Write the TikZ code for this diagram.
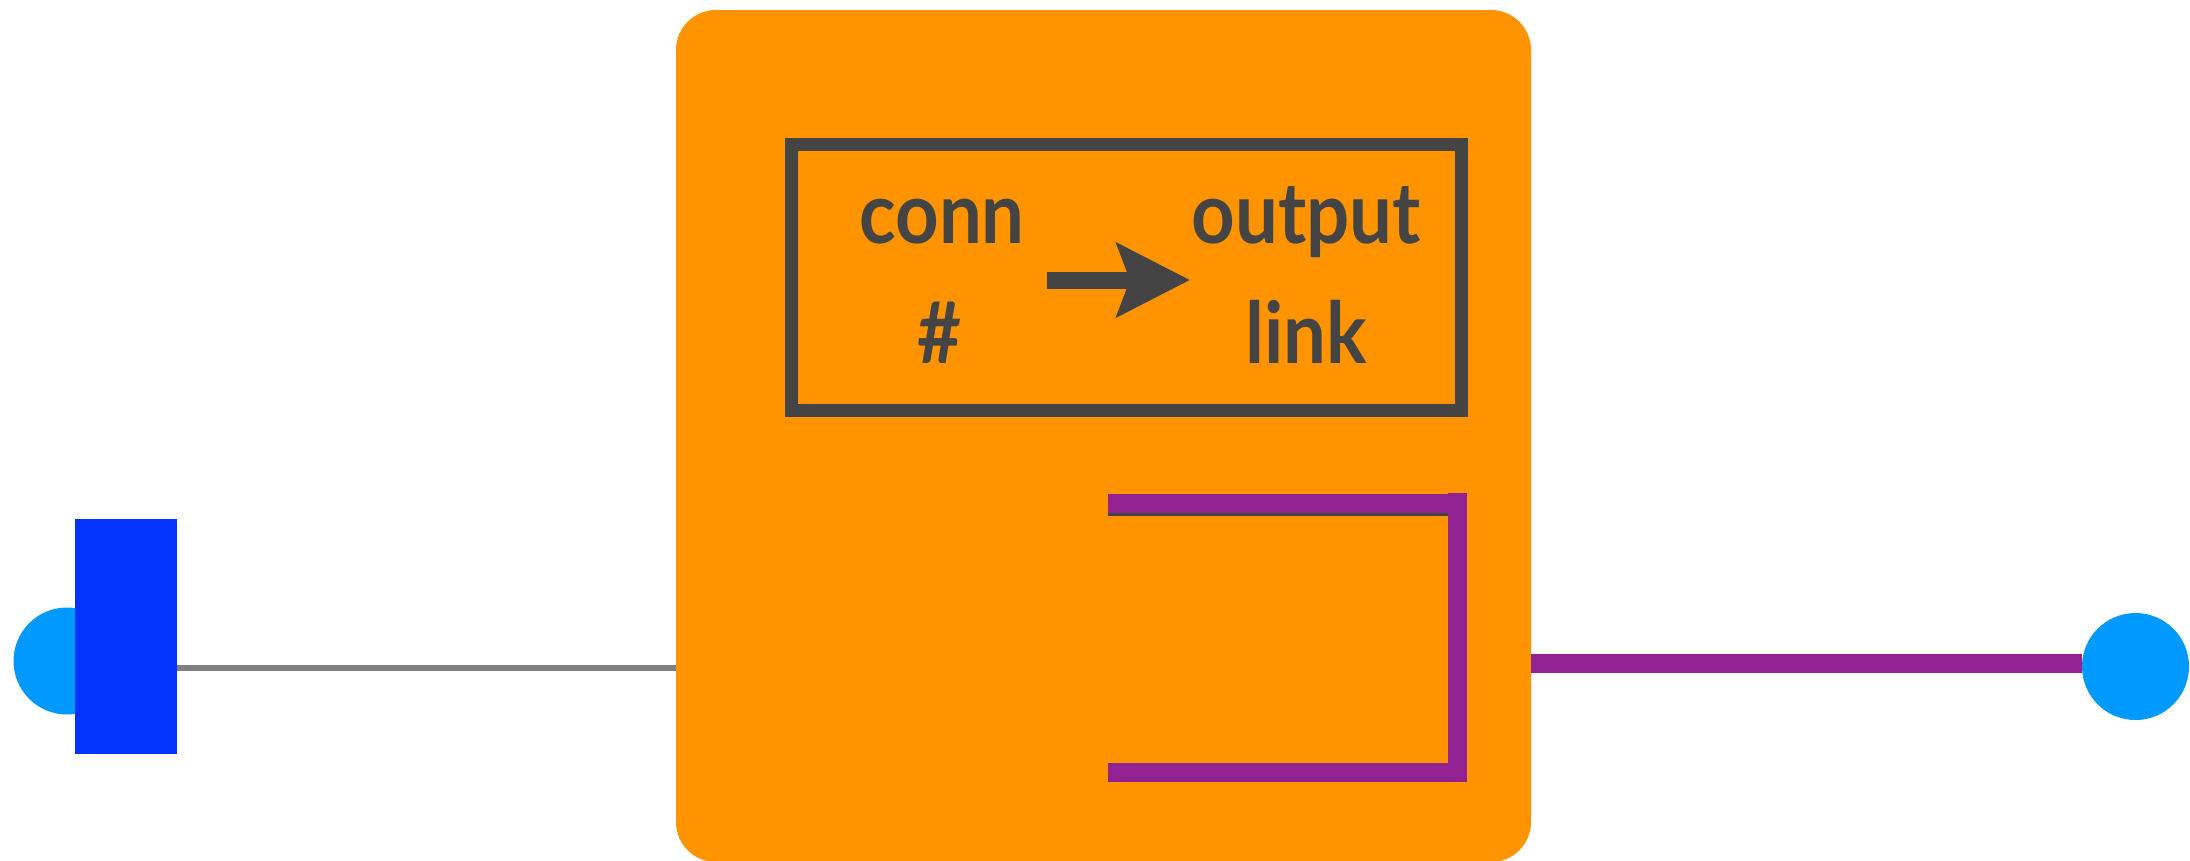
\documentclass[tikz,border=0pt]{standalone}
\usepackage{fontspec}
\setmainfont{DejaVu Sans}
\newfontfamily\lblfont{Lato}
\usetikzlibrary{arrows.meta}
\definecolor{orng}{RGB}{255,148,0}
\definecolor{purp}{RGB}{146,34,146}
\definecolor{dgray}{RGB}{68,68,68}
\definecolor{lblue}{RGB}{0,153,255}
\definecolor{dblue}{RGB}{4,51,255}
\definecolor{lgray}{RGB}{128,128,128}
\tikzset{
  lbl/.style={text=dgray, font=\lblfont\bfseries\fontsize{76}{86}\selectfont, anchor=base, inner sep=0},
  port/.style={circle, fill=lblue, minimum size=107pt, inner sep=0},
  wire/.style={line width=19pt, purp}
}
\newcommand{\tallx}[1]{\scalebox{1}[1.12]{#1}}
\begin{document}
\begin{tikzpicture}[x=1pt,y=-1pt]
\useasboundingbox (0,0) rectangle (2190,860);
% main block
\fill[orng, rounded corners=40pt] (676,10) rectangle (1531,862);
\node[minimum width=855pt, minimum height=852pt, inner sep=0, outer sep=0, anchor=north west] (blk) at (676,10) {};
% inner frame
\node[draw=dgray, line width=13pt, minimum width=670pt, minimum height=266pt, inner sep=0, outer sep=0, anchor=north west] (frame) at (791,144) {};
% labels
\node[lbl] (conn) at (942,243) {\tallx{conn}};
\node[lbl] (hash) at (940,363) {\tallx{\#}};
\node[lbl] (out) at (1306,243) {\tallx{output}};
\node[lbl] (link) at (1306,363) {\tallx{link}};
\coordinate (as) at (1047,280);
\coordinate (ae) at (1190,280);
\draw[dgray, line width=17pt, -{Stealth[length=73pt, width=73pt, inset=13pt]}] (as) -- (ae);
% bracket
\coordinate (b1) at (1108,503.5);
\coordinate (b3) at (1457,772.5);
\coordinate (b4) at (1108,772.5);
\coordinate (b0) at (1457,493);
\coordinate (b5) at (1457,782);
\coordinate (b6) at (1466,503.5);
\coordinate (g1) at (1108,514.5);
\coordinate (g2) at (1448,514.5);
\draw[dgray, line width=3pt] (g1) -- (g2);
\draw[wire] (b1) -- (b6);
\draw[wire] (b0) -- (b5);
\draw[wire] (b4) -- (b3);
% left side
\node[port] (lp) at (67,661) {};
\node[fill=dblue, minimum width=102pt, minimum height=235pt, inner sep=0, outer sep=0, anchor=north west] (lb) at (75,519) {};
\draw[lgray, line width=6pt] (lb.east |- 0,668) -- (blk.west |- 0,668);
% right side
\node[port] (rp) at (2135.5,666.5) {};
\draw[wire] (blk.east |- 0,663) -- (rp.west |- 0,663);
\end{tikzpicture}
\end{document}
